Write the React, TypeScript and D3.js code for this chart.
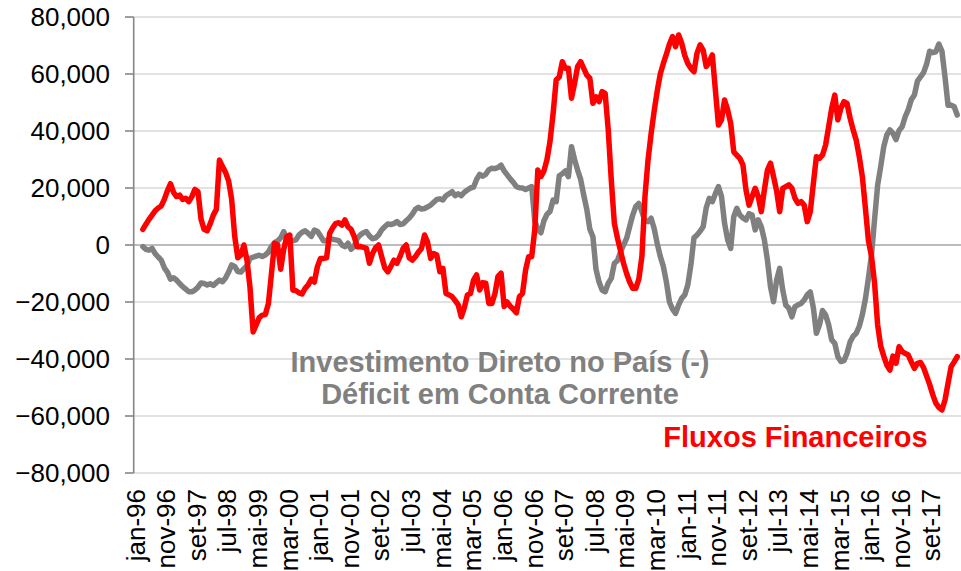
import React from "react";
import * as d3 from "d3";

// Months are indexed from jan-96 (index 0). Both series start in apr-96 (index 3).
const START_INDEX = 3;
const TOTAL_MONTHS = 270;

// Fluxos Financeiros (thousands)
const FLUXOS = [
  5.5, 7.3, 9, 10.5, 12, 13, 13.7, 16, 19, 21.5,
  18.5, 17, 17.5, 16, 16.4, 15.2, 17, 19.5, 18.7, 9,
  5.5, 5, 7.5, 10.5, 12.5, 29.8, 27.5, 25.5, 22.5, 16,
  3, -4.5, -3.5, 0, -5.3, -15, -30.5, -28, -25.5, -24.6,
  -24.4, -20.5, -10, 0.6, 0, -8.5, -1.5, 2.9, 3.5, -15.8,
  -16, -16.8, -17.2, -15.2, -14, -12, -13, -7.6, -4.7, -4.7,
  -4.5, 4.1, 6, 7.6, 7.8, 7, 8.8, 6.4, 5.5, 3,
  -0.6, -0.5, -0.8, -1.2, -6.4, -3, -1, 0, -4.1, -8,
  -9.4, -7.5, -5.3, -6.4, -4, -1.2, 0, -4.5, -5.3, -4.1,
  -2.5, -1.2, 3.5, 1, -4.7, -3, -3.5, -9.4, -8.2, -17,
  -17.5, -18.1, -19.5, -21, -25.2, -22, -17.5, -17, -12.3, -10.5,
  -15.8, -13.2, -13.4, -20.5, -20.5, -17, -11, -9.9, -21.6, -20,
  -21.5, -22.5, -23.8, -18.1, -17, -8.8, -4.1, -4.1, 5.3, 26.3,
  24, 26, 30, 36.5, 46.2, 57.9, 59, 64.3, 62, 62,
  51.5, 56.7, 62.6, 64.3, 62, 59.6, 58.5, 49.7, 52, 50.3,
  53.8, 53.2, 40.4, 22.8, 7.6, 2.5, -2, -6.4, -10, -13,
  -15.2, -15.2, -12, -4, 17, 29.8, 39, 47, 54, 60,
  63.7, 67, 70.5, 73.1, 69.6, 73.7, 70.8, 66.5, 63.7, 62,
  60.8, 67.3, 70.2, 68.4, 62.6, 64.3, 66.7, 54.4, 42.1, 43.9,
  50.9, 47.4, 42.7, 32.7, 31.5, 30.4, 28.1, 19.3, 14, 17,
  19.9, 17, 11.7, 19.3, 26.3, 28.7, 24, 19, 11.7, 19.9,
  20.5, 21.1, 19.9, 16.4, 14.6, 15.2, 14, 8.2, 11.7, 21.6,
  31, 30.4, 31.6, 35.1, 41.5, 48, 52.6, 43.9, 48, 50.3,
  49.7, 44.5, 40.4, 36.8, 31, 24, 13, 1.5, -4, -13.4,
  -28, -35.5, -39, -42.1, -43.9, -39, -41.5, -35.7, -37.4, -38,
  -38.6, -41, -43.3, -41.5, -41.2, -43, -46, -49, -52.5, -55.5,
  -57, -57.9, -54.4, -48.5, -42.7, -41, -39.2,
];

// Investimento Direto no País (-) Déficit em Conta Corrente (thousands)
const IDP_MENOS_DEFICIT = [
  -0.6, -1.5, -1.8, -1.2, -3, -4.2, -5.3, -8, -9.5, -12,
  -11.5, -12.3, -13.5, -14.6, -15.5, -16.4, -16.4, -15.8, -14.8, -13.3,
  -13.5, -14, -13.6, -14.2, -13.2, -12.3, -12.9, -11.6, -9.5, -7,
  -7.5, -9.3, -9.5, -8.3, -7.3, -4.7, -4.3, -3.9, -3.6, -4,
  -3.5, -2.5, -0.5, 0.8, 1.4, 2.5, 4.7, 2, 1.4, 1.5,
  1.8, 3.5, 4.5, 5, 4.1, 3, 5.2, 4.8, 3.2, 1.5,
  1.5, 2.3, 2, 1.8, 1.5, 0, -0.6, 0.6, -1.5, -0.5,
  2.3, 3.5, 4.3, 4.7, 3.2, 2.2, 2.5, 3.5, 5.3, 6.4,
  7.4, 7.2, 7.5, 8.2, 7.2, 7.4, 8.5, 9.5, 10.8, 12.5,
  13.2, 12.6, 12.8, 13.4, 14, 15, 16, 16.2, 15.8, 17.3,
  18, 18.7, 17.3, 18, 17.3, 18.5, 19.3, 20, 20.3, 23,
  24.8, 24.1, 24.8, 26.4, 26.9, 26.8, 27.2, 28, 26, 24.6,
  23.2, 22, 20.5, 20.1, 20, 19.5, 20, 20.5, 8.5, 5.5,
  4.3, 8.5, 10.8, 11.8, 15.8, 15.2, 24.3, 25, 26, 24,
  34.5, 30, 26.3, 23, 17.5, 12.5, 5.5, 2.9, -8.5, -13,
  -15.8, -16.4, -13.4, -11.7, -6.4, -5.5, -2.5, 0, 2.3, 6.5,
  10.5, 13.5, 14.6, 11.7, 8.5, 8.2, 9.4, 5.8, 0.5, -4,
  -7.5, -13, -20, -22.5, -24, -21, -18.7, -17.5, -14, -7,
  2.5, 3.5, 4.8, 6.4, 13, 16.4, 15.2, 18, 20.5, 17,
  7.6, 1.8, -1.2, 9.9, 12.9, 10.5, 9.5, 8.8, 11, 10.5,
  5.3, 8.8, 6.4, 1.8, -5.3, -14.6, -19.9, -12.3, -8.2, -15.8,
  -21.1, -22.2, -25.2, -21.6, -21, -20.5, -19.3, -17.5, -16.5, -22,
  -31, -28, -23, -24.5, -28, -33.3, -34.5, -39.2, -40.9, -40.6,
  -38, -34, -32, -31, -28.5, -24.5, -19, -11.5, -3.5, 9,
  21, 27.5, 34.5, 38.6, 40.4, 39.2, 37, 40.2, 41.5, 45,
  47.5, 51, 52.6, 57.5, 59, 60.5, 63.5, 68, 67.5, 67.8,
  70.5, 68, 59, 49, 49.1, 48.5, 45.6,
];

const Y_TICKS = [-80000, -60000, -40000, -20000, 0, 20000, 40000, 60000, 80000];

const X_TICK_LABELS = [
  "jan-96", "nov-96", "set-97", "jul-98", "mai-99", "mar-00", "jan-01", "nov-01",
  "set-02", "jul-03", "mai-04", "mar-05", "jan-06", "nov-06", "set-07", "jul-08",
  "mai-09", "mar-10", "jan-11", "nov-11", "set-12", "jul-13", "mai-14", "mar-15",
  "jan-16", "nov-16", "set-17",
];
const X_TICK_STEP = 10; // months between labels

const FONT = "'Liberation Sans', Arial, Helvetica, sans-serif";

export default function App() {
  const W = 961;
  const H = 571;
  const left = 133.7;
  const right = 960.3;
  const top = 17;
  const bottom = 473;

  const x = d3.scaleLinear().domain([0, TOTAL_MONTHS]).range([left, right]);
  const y = d3.scaleLinear().domain([-80000, 80000]).range([bottom, top]);

  const line = d3
    .line<number>()
    .x((_, i) => x(START_INDEX + i))
    .y((v) => y(v * 1000))
    .curve(d3.curveLinear);

  const fmt = d3.format(",");

  return (
    <div style={{ position: "absolute", left: 0, top: 0 }}>
      <svg width={W} height={H} style={{ display: "block", background: "#fff" }}>
        {/* gridlines */}
        {Y_TICKS.filter((t) => t !== 0).map((t) => (
          <line key={t} x1={left} x2={W} y1={y(t)} y2={y(t)} stroke="#d9d9d9" strokeWidth={1.6} />
        ))}
        {/* category axis at zero */}
        <line x1={left} x2={W} y1={y(0)} y2={y(0)} stroke="#a6a6a6" strokeWidth={1.6} />
        {/* value axis */}
        <line x1={left} x2={left} y1={top} y2={bottom} stroke="#868686" strokeWidth={1.6} />
        {Y_TICKS.map((t) => (
          <line key={"tk" + t} x1={125} x2={left} y1={y(t)} y2={y(t)} stroke="#868686" strokeWidth={1.6} />
        ))}
        {Y_TICKS.map((t) => (
          <text
            key={"yl" + t}
            x={110}
            y={y(t)}
            dy="0.35em"
            textAnchor="end"
            fontFamily={FONT}
            fontSize={26}
            fill="#000"
          >
            {fmt(t)}
          </text>
        ))}
        {X_TICK_LABELS.map((lab, k) => (
          <text
            key={lab}
            transform={`translate(${x(k * X_TICK_STEP) + 1.7},489) rotate(-90)`}
            dy="0.35em"
            textAnchor="end"
            fontFamily={FONT}
            fontSize={26}
            fill="#000"
          >
            {lab}
          </text>
        ))}
        {/* series */}
        <path
          d={line(IDP_MENOS_DEFICIT) || ""}
          fill="none"
          stroke="#808080"
          strokeWidth={5.5}
          strokeLinejoin="round"
          strokeLinecap="round"
        />
        <path
          d={line(FLUXOS) || ""}
          fill="none"
          stroke="#ff0000"
          strokeWidth={5.5}
          strokeLinejoin="round"
          strokeLinecap="round"
        />
        {/* annotations */}
        <text x={500} y={371.5} textAnchor="middle" fontFamily={FONT} fontWeight="bold" fontSize={29} fill="#808080">
          Investimento Direto no País (-)
        </text>
        <text x={500} y={403.5} textAnchor="middle" fontFamily={FONT} fontWeight="bold" fontSize={29} fill="#808080">
          Déficit em Conta Corrente
        </text>
        <text x={795.5} y={447} textAnchor="middle" fontFamily={FONT} fontWeight="bold" fontSize={29} fill="#ff0000">
          Fluxos Financeiros
        </text>
      </svg>
    </div>
  );
}
